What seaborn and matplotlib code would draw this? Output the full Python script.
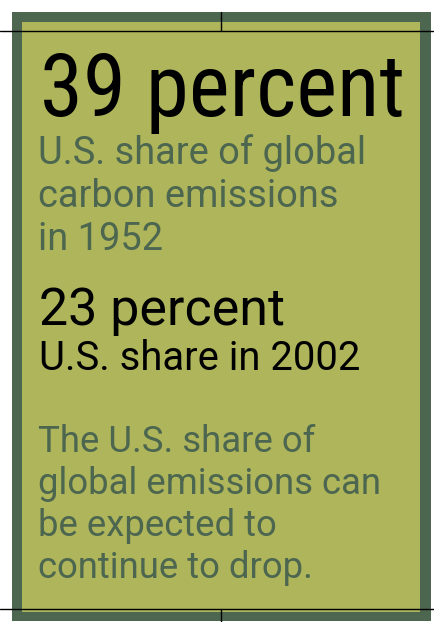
import matplotlib
matplotlib.use("Agg")
import matplotlib.pyplot as plt
import seaborn as sns
from matplotlib.patches import Rectangle

# ---- data ----
share_values = [39, 23]
share_years = [1952, 2002]
headline_unit = "percent"
caption_1952 = ["U.S. share of global", "carbon emissions", f"in {share_years[0]}"]
caption_2002 = f"U.S. share in {share_years[1]}"
note_lines = ["The U.S. share of", "global emissions can", "be expected to", "continue to drop."]

# ---- style ----
sns.set_theme(style="white")
plt.rcParams["font.family"] = ["Roboto", "DejaVu Sans"]

DARK = "#4c6650"
LIGHT = "#afb55a"
INK = "#000000"

W, H = 434, 622
fig = plt.figure(figsize=(W / 100, H / 100), dpi=100)
ax = fig.add_axes([0, 0, 1, 1])
ax.set_xlim(0, W)
ax.set_ylim(H, 0)
ax.axis("off")

ax.add_patch(Rectangle((12, 12), 419, 609, facecolor=DARK, edgecolor="none"))
ax.add_patch(Rectangle((22, 22), 398, 590, facecolor=LIGHT, edgecolor="none"))

# crop marks
ax.plot([0, W], [31, 31], color="black", lw=1)
ax.plot([0, W], [609, 609], color="black", lw=1)
ax.plot([221, 221], [12, 31], color="black", lw=1)
ax.plot([221, 221], [609, 622], color="black", lw=1)

pt = 72 / 100  # px -> pt

ax.text(40, 116, f"{share_values[0]} {headline_unit}", fontsize=87 * pt, color=INK,
        va="baseline", ha="left", family=["Roboto Condensed", "Roboto", "DejaVu Sans"])
for i, line in enumerate(caption_1952):
    ax.text(38, 164 + i * 43, line, fontsize=38 * pt, color=DARK, va="baseline", ha="left")

ax.text(39, 325, f"{share_values[1]} {headline_unit}", fontsize=52 * pt, color=INK, va="baseline", ha="left")
ax.text(39, 370, caption_2002, fontsize=40 * pt, color=INK, va="baseline", ha="left")

for i, line in enumerate(note_lines):
    ax.text(38, 452 + i * 42, line, fontsize=36.5 * pt, color=DARK, va="baseline", ha="left")

fig.savefig("out.png", dpi=100)
